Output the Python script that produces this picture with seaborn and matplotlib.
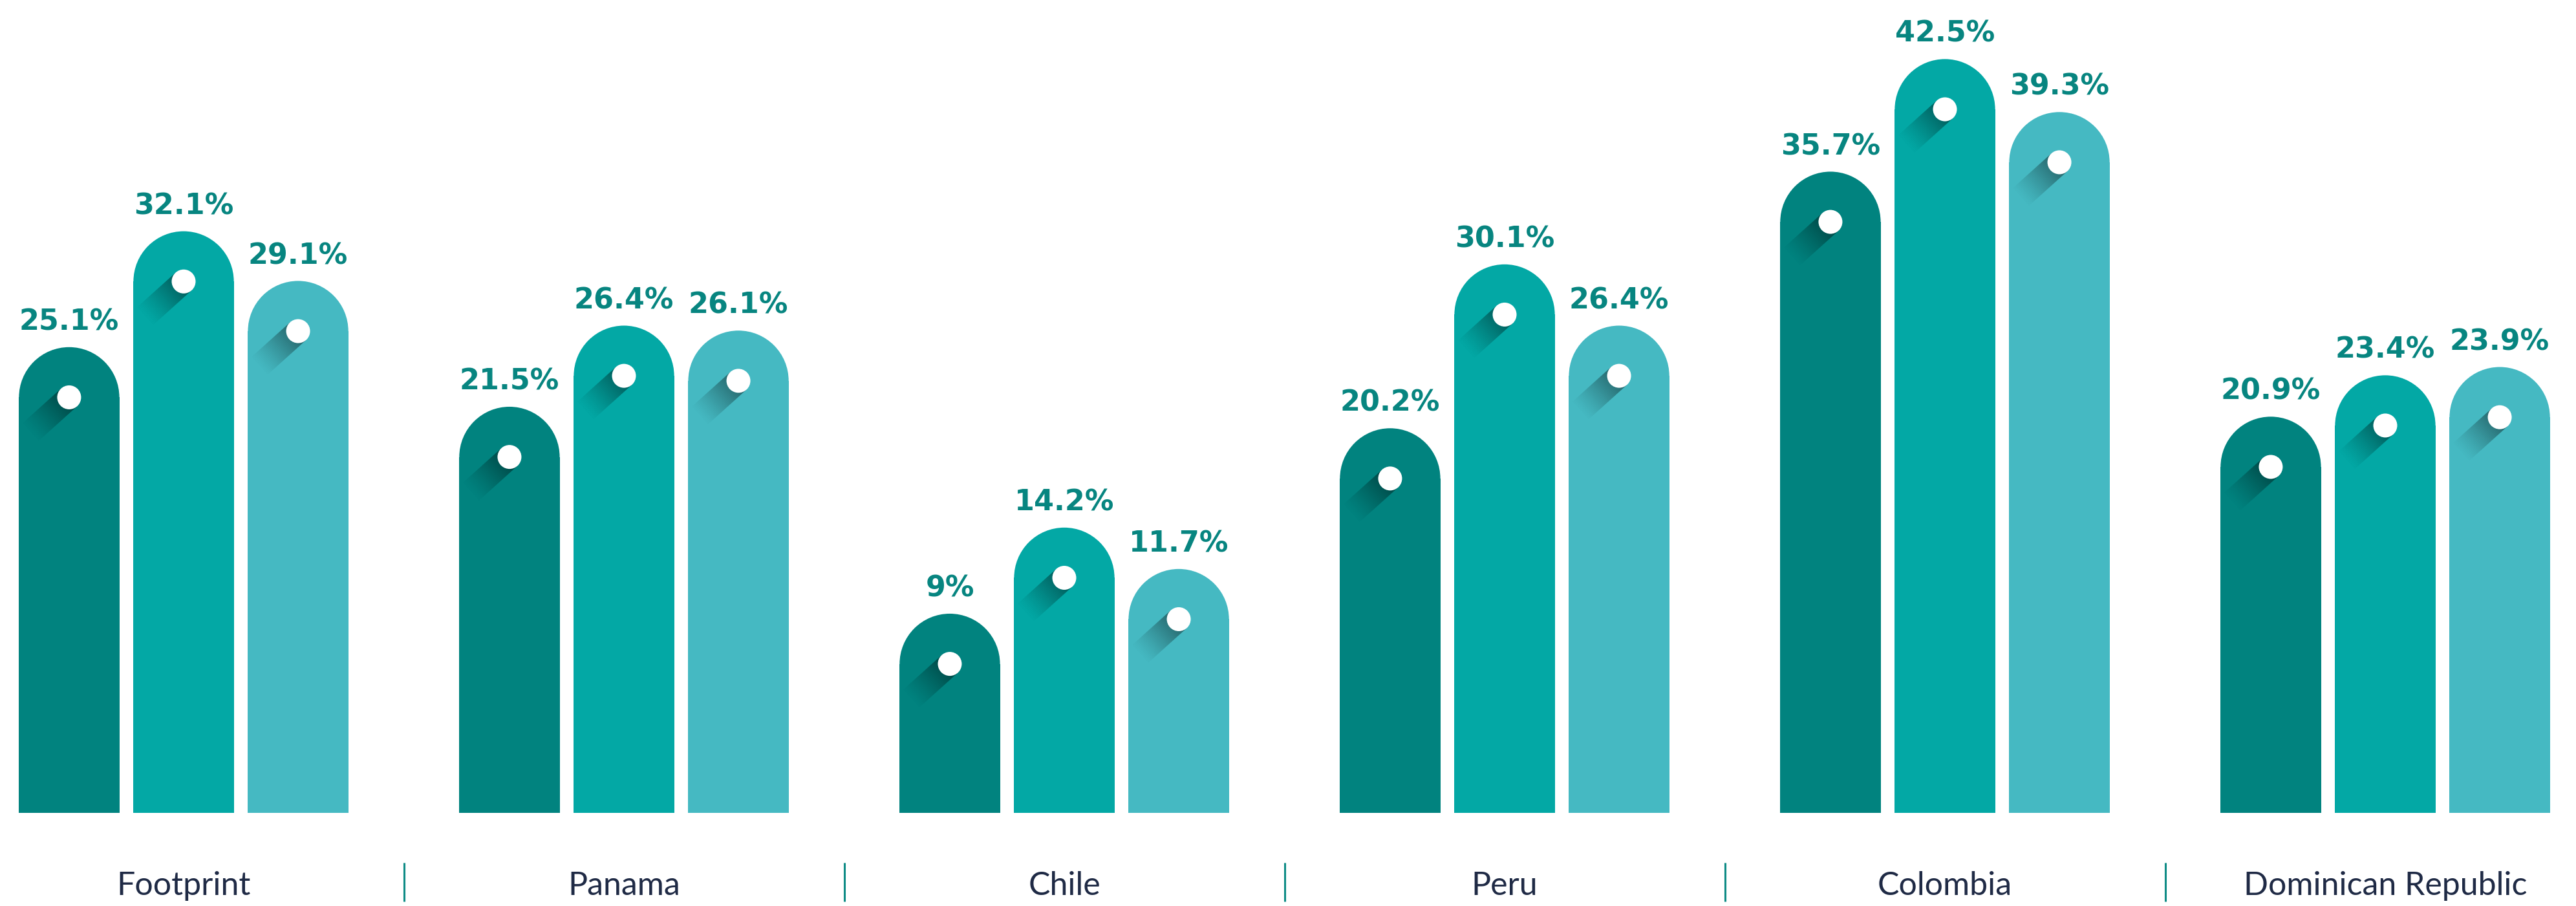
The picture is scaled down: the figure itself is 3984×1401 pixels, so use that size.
import numpy as np
import pandas as pd
import matplotlib
matplotlib.use("Agg")
import matplotlib.pyplot as plt
import seaborn as sns
from matplotlib.patches import Ellipse, Polygon

# ---------------- data ----------------
categories = ["Footprint", "Panama", "Chile", "Peru", "Colombia", "Dominican Republic"]
series_names = ["Series 1", "Series 2", "Series 3"]
values_s1 = [25.1, 21.5, 9.0, 20.2, 35.7, 20.9]
values_s2 = [32.1, 26.4, 14.2, 30.1, 42.5, 23.4]
values_s3 = [29.1, 26.1, 11.7, 26.4, 39.3, 23.9]
series_colors = ["#01837f", "#03a8a5", "#45b9c2"]
label_color = "#078580"
category_color = "#1f2a45"
separator_color = "#0f8c86"

# ---------------- figure ----------------
W_PX, H_PX, DPI = 3984, 1401, 100
sns.set_style("white")
plt.rcParams["font.family"] = ["Lato", "DejaVu Sans"]

fig = plt.figure(figsize=(W_PX / DPI, H_PX / DPI), dpi=DPI)
base_px = 1257  # bar baseline, px from top
bottom_frac = (H_PX - base_px) / H_PX
ax = fig.add_axes([0, bottom_frac, 1, 1 - bottom_frac])

rows = []
for s, vals in zip(series_names, [values_s1, values_s2, values_s3]):
    for c, v in zip(categories, vals):
        rows.append({"country": c, "series": s, "value": v})
df = pd.DataFrame(rows)

sns.barplot(data=df, x="country", y="value", hue="series", order=categories,
            hue_order=series_names, palette=series_colors, saturation=1,
            width=0.78, gap=0.123, errorbar=None, legend=False,
            linewidth=0, edgecolor="none", ax=ax)

px_per_unit_y = 25.6
x0 = -284 / 681
x1 = (W_PX - 284) / 681
ax.set_xlim(x0, x1)
ax.set_ylim(0, base_px / px_per_unit_y)
ax.set_axis_off()

ppx = W_PX / (x1 - x0)
ppy = H_PX * (1 - bottom_frac) / (base_px / px_per_unit_y)

all_vals = [values_s1, values_s2, values_s3]
dot_d_px = 37
shadow_len = 82
u = np.array([-1.0, -0.9]); u /= np.linalg.norm(u)
v = np.array([-u[1], u[0]])

for hi, cont in enumerate(ax.containers):
    for ci, rect in enumerate(cont):
        val = all_vals[hi][ci]
        x = rect.get_x()
        w = rect.get_width()
        h = rect.get_height()
        r_px = w * ppx / 2
        ry = r_px / ppy
        xc = x + w / 2
        yc = h
        # rounded (semicircular) cap on top of the bar
        cap = Ellipse((xc, yc), w, 2 * ry, facecolor=series_colors[hi],
                      edgecolor="none", zorder=rect.get_zorder())
        ax.add_patch(cap)

        # long shadow of the dot
        n = 40
        for k in range(n):
            s0 = shadow_len * k / n
            s1 = shadow_len * (k + 1) / n
            a = 0.48 * (1 - (s0 + s1) / 2 / shadow_len) ** 1.3
            pts = []
            for s, sg in [(s0, 1), (s1, 1), (s1, -1), (s0, -1)]:
                p = s * u + sg * (dot_d_px / 2) * v
                pts.append((xc + p[0] / ppx, yc + p[1] / ppy))
            ax.add_patch(Polygon(pts, closed=True, facecolor="black",
                                 edgecolor="none", alpha=a, zorder=4))
        # white dot
        ax.add_patch(Ellipse((xc, yc), dot_d_px / ppx, dot_d_px / ppy,
                             facecolor="white", edgecolor="none", zorder=6))
        # value label above the cap
        ax.annotate(f"{val:g}%", (xc, h + ry), xytext=(0, 19), textcoords="offset points",
                    ha="center", va="baseline", fontsize=32, fontweight="bold",
                    family="DejaVu Sans", color=label_color, zorder=7,
                    annotation_clip=False)

# category labels and separators below the bars
trans = ax.get_xaxis_transform()
ax_h_px = H_PX * (1 - bottom_frac)
lab_y = -(1384 - base_px) / ax_h_px
sep_y0 = -(1334 - base_px) / ax_h_px
sep_y1 = -(1394 - base_px) / ax_h_px
for i, cat in enumerate(categories):
    ax.text(i, lab_y, cat, transform=trans, ha="center", va="baseline",
            fontsize=36, fontweight="normal", color=category_color, clip_on=False)
    if i < len(categories) - 1:
        ax.plot([i + 0.5, i + 0.5], [sep_y0, sep_y1], transform=trans,
                color=separator_color, lw=2.2, clip_on=False, solid_capstyle="butt")

fig.savefig("out.png", dpi=DPI, facecolor="white")
